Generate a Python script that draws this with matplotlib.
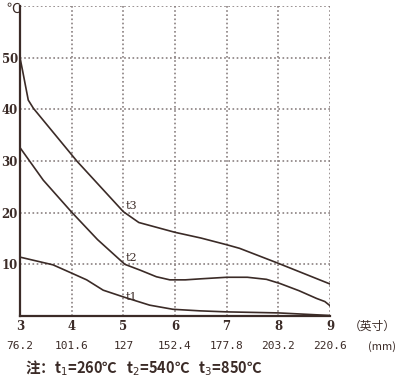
import numpy as np
import matplotlib
matplotlib.use('Agg')
import matplotlib.pyplot as plt

plt.rcParams['font.family'] = ['DejaVu Serif', 'Noto Sans CJK SC']

# data (x in inches, y in deg C)
t3_x = [3, 3.05, 3.1, 3.16, 3.26, 4.1, 5.0, 5.3, 6.0, 6.5, 7.0, 7.25, 8.0, 9.0]
t3_y = [50, 47.5, 44.9, 41.8, 40.2, 30, 20.2, 18.1, 16.2, 15.1, 13.8, 13.1, 10.2, 6.2]
t2_x = [3, 3.45, 4.0, 4.5, 5.03, 5.32, 5.64, 5.9, 6.2, 6.5, 7.0, 7.4, 7.77, 8.03, 8.4, 8.74, 8.9, 9.0]
t2_y = [32.6, 26.3, 20.1, 14.8, 10, 8.9, 7.6, 7.0, 7.0, 7.2, 7.5, 7.5, 7.1, 6.3, 4.9, 3.4, 2.8, 2.0]
t1_x = [3, 3.64, 4.0, 4.29, 4.61, 5.03, 5.51, 5.96, 6.48, 7.0, 8.0, 9.0]
t1_y = [11.4, 9.9, 8.3, 7.0, 5.0, 3.6, 2.1, 1.3, 1.0, 0.8, 0.6, 0.1]

inch_ticks = [3, 4, 5, 6, 7, 8, 9]
mm_labels = ['76.2', '101.6', '127', '152.4', '177.8', '203.2', '220.6']
y_ticks = [10, 20, 30, 40, 50]
curve_labels = ['t3', 't2', 't1']
label_pos = [(5.05, 21.3), (5.05, 11.2), (5.05, 3.6)]

dark = '#3b2b27'
gridc = '#8a8080'

fig = plt.figure(figsize=(4, 3.8), dpi=100)
ax = fig.add_axes([0.05, 0.1684, 0.775, 0.8156])

for xs, ys in [(t3_x, t3_y), (t2_x, t2_y), (t1_x, t1_y)]:
    ax.plot(xs, ys, color=dark, lw=1.2, solid_joinstyle='round')

for name, (lx, ly) in zip(curve_labels, label_pos):
    ax.text(lx, ly, name, fontsize=8, color=dark, ha='left', va='center')

ax.set_xlim(3, 9)
ax.set_ylim(0, 60)

# dotted grid incl. top/right frame
for gx in inch_ticks[1:]:
    ax.axvline(gx, color=gridc, ls=(0, (1, 1.5)), lw=1.2, zorder=0)
for gy in y_ticks + [60]:
    ax.axhline(gy, color=gridc, ls=(0, (1, 1.5)), lw=1.2, zorder=0)

ax.spines['top'].set_visible(False)
ax.spines['right'].set_visible(False)
ax.spines['left'].set_color(dark)
ax.spines['bottom'].set_color(dark)
ax.spines['left'].set_linewidth(1.6)
ax.spines['bottom'].set_linewidth(1.6)
ax.spines['left'].set_zorder(5)

ax.set_xticks(inch_ticks)
ax.set_xticklabels([str(v) for v in inch_ticks], fontsize=8.5, fontweight='bold', color=dark)
ax.set_yticks(y_ticks)
ax.set_yticklabels([str(v) for v in y_ticks], fontsize=8.5, fontweight='bold', color=dark)
ax.tick_params(length=0, pad=3)
ax.tick_params(axis='y', pad=1.5)

trans = ax.get_xaxis_transform()
for xv, lab in zip(inch_ticks, mm_labels):
    ax.text(xv, -0.098, lab, transform=trans, ha='center', va='center',
            fontsize=8, family='DejaVu Sans Mono', color=dark)

fig.text(0.99, 1 - 326.5 / 380, '（英寸）', ha='right', va='center', fontsize=8.5,
         family=['Noto Sans CJK SC'], color=dark)
fig.text(0.99, 1 - 346.5 / 380, '(mm)', ha='right', va='center', fontsize=8,
         family=['Noto Sans CJK SC'], color=dark)
fig.text(0.015, 1 - 9 / 380, '℃', ha='left', va='center', fontsize=10,
         family=['Noto Sans CJK SC'], color=dark)

fig.text(0.062, 1 - 368 / 380, '注：t$_1$=260℃   t$_2$=540℃   t$_3$=850℃',
         ha='left', va='center', fontsize=10.5, fontweight='bold',
         family=['Noto Sans CJK SC'], color=dark)

fig.savefig('out.png', dpi=100)
